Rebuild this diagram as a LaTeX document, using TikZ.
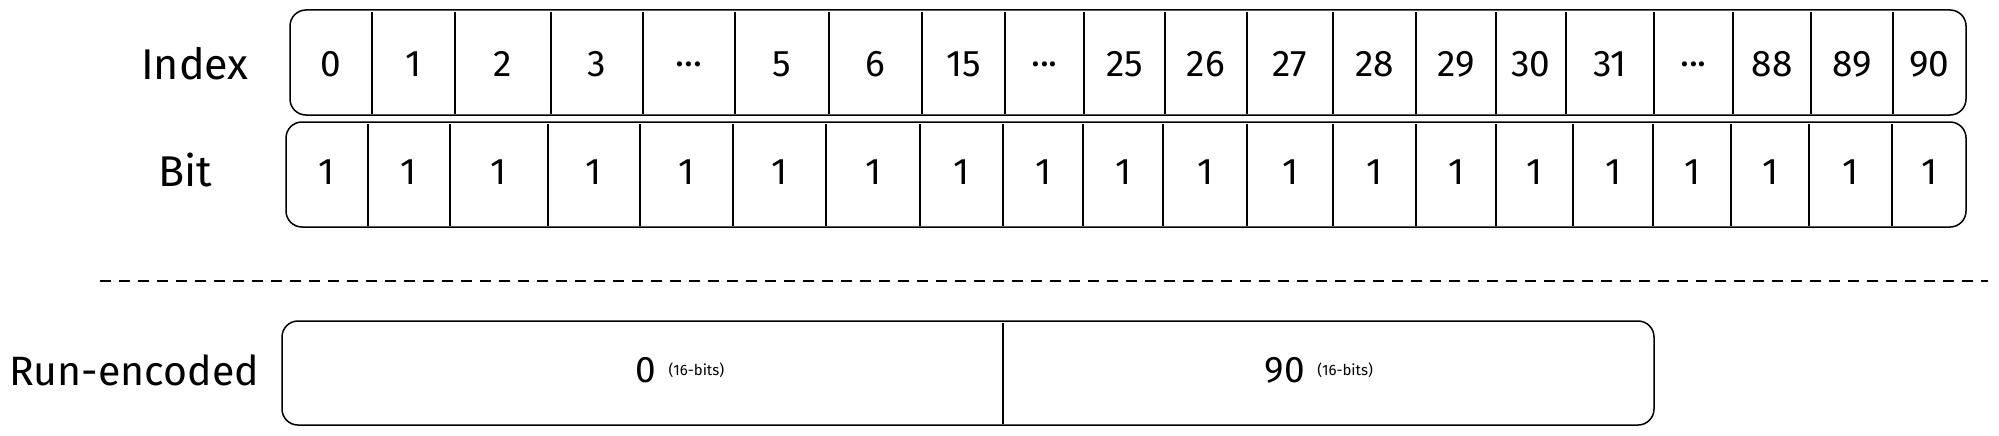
\documentclass[tikz,border=0pt]{standalone}
\usepackage{fontspec}
\setmainfont{Fira Sans}
\newcommand{\celldots}{...}
\begin{document}
\begin{tikzpicture}[x=1pt,y=-1pt,
  box/.style={draw, line width=1.5pt, rounded corners=16pt},
  divline/.style={line width=1.3pt},
  lbl/.style={font=\fontsize{43}{43}\selectfont, inner sep=0pt},
  cell/.style={font=\fontsize{37}{37}\selectfont, inner sep=0pt},
  small/.style={font=\fontsize{15}{15}\selectfont, inner sep=0pt}]
\useasboundingbox (0,0) rectangle (1999,436);
% labels
\node[lbl] (lindex) at (195,64) {Index};
\node[lbl] (lbit) at (185,170) {Bit};
\node[lbl, font=\fontsize{41}{41}\selectfont] (lrun) at (134,370) {Run-encoded};
% top row
\draw[box] (290,10) rectangle (1966,115);
\foreach \x in {372,455,551,643,735,829,922,1005,1084,1165,1247,1333,1416,1496,1566,1654,1733,1811,1893}
  \draw[divline] (\x,12) -- (\x,114);
\foreach \a/\b/\t [count=\i] in {290/372/0,372/455/1,455/551/2,551/643/3,643/735/\celldots,735/829/5,829/922/6,922/1005/15,1005/1084/\celldots,1084/1165/25,1165/1247/26,1247/1333/27,1333/1416/28,1416/1496/29,1496/1566/30,1566/1654/31,1654/1733/\celldots,1733/1811/88,1811/1893/89,1893/1966/90}
  \node[cell] (i\i) at ({(\a+\b)/2},64) {\t};
% bit row
\draw[box] (286,122) rectangle (1966,227);
\foreach \x in {368,450,548,640,733,826,920,1003,1083,1163,1247,1333,1416,1496,1573,1653,1731,1809,1892}
  \draw[divline] (\x,124) -- (\x,226);
\foreach \a/\b [count=\i] in {286/368,368/450,450/548,548/640,640/733,733/826,826/920,920/1003,1003/1083,1083/1163,1163/1247,1247/1333,1333/1416,1416/1496,1496/1573,1573/1653,1653/1731,1731/1809,1809/1892,1892/1966}
  \node[cell] (b\i) at ({(\a+\b)/2},172) {1};
% separator
\coordinate (sepl) at (100,281);
\coordinate (sepr) at (1988,281);
\draw[line width=1.3pt, dash pattern=on 11pt off 8pt] (sepl) -- (sepr);
% run-encoded
\draw[box] (282,321) rectangle (1654,425);
\draw[divline] (1003,323) -- (1003,424);
\node[cell] (r0) at (646,370) {0};
\node[small, anchor=west] (r0b) at ([xshift=12pt]r0.east) {(16-bits)};
\node[cell] (r90) at (1285,370) {90};
\node[small, anchor=west] (r90b) at ([xshift=12pt]r90.east) {(16-bits)};
\end{tikzpicture}
\end{document}
